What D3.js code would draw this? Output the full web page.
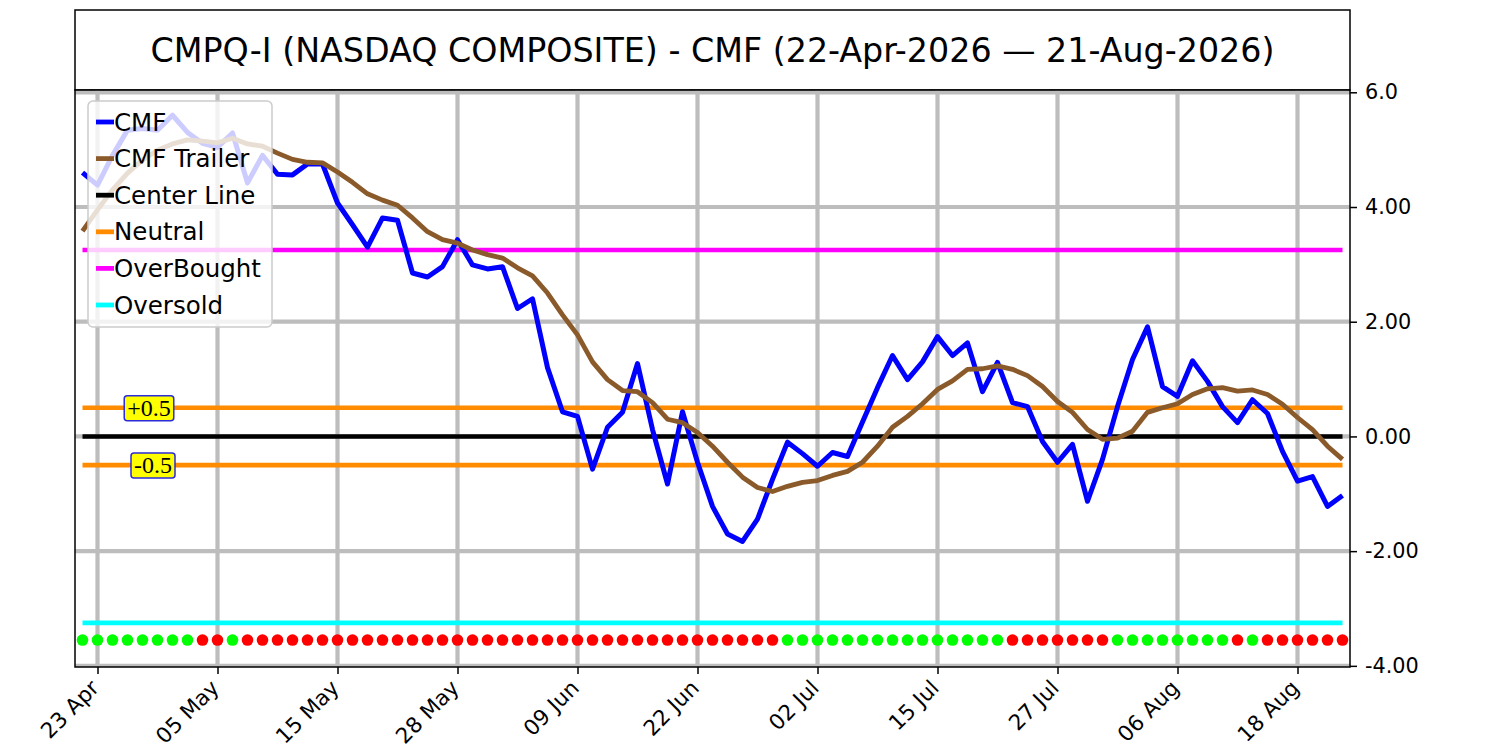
<!DOCTYPE html>
<html>
<head>
<meta charset="utf-8">
<script src="https://cdn.jsdelivr.net/npm/d3@7"></script>
<style>
  body { margin: 0; background: #fff; }
  svg { display: block; font-family: "DejaVu Sans", sans-serif; }
</style>
</head>
<body>
<svg id="chart" width="1500" height="750"></svg>
<script>
// trading days shown on the chart
var dates = [
  "2026-04-22","2026-04-23","2026-04-24","2026-04-27","2026-04-28","2026-04-29","2026-04-30",
  "2026-05-01","2026-05-04","2026-05-05","2026-05-06","2026-05-07","2026-05-08","2026-05-11",
  "2026-05-12","2026-05-13","2026-05-14","2026-05-15","2026-05-18","2026-05-19","2026-05-20",
  "2026-05-21","2026-05-22","2026-05-26","2026-05-27","2026-05-28","2026-05-29",
  "2026-06-01","2026-06-02","2026-06-03","2026-06-04","2026-06-05","2026-06-08","2026-06-09",
  "2026-06-10","2026-06-11","2026-06-12","2026-06-15","2026-06-16","2026-06-17","2026-06-18",
  "2026-06-22","2026-06-23","2026-06-24","2026-06-25","2026-06-26","2026-06-29","2026-06-30",
  "2026-07-01","2026-07-02","2026-07-06","2026-07-07","2026-07-08","2026-07-09","2026-07-10",
  "2026-07-13","2026-07-14","2026-07-15","2026-07-16","2026-07-17","2026-07-20","2026-07-21",
  "2026-07-22","2026-07-23","2026-07-24","2026-07-27","2026-07-28","2026-07-29","2026-07-30",
  "2026-07-31","2026-08-03","2026-08-04","2026-08-05","2026-08-06","2026-08-07","2026-08-10",
  "2026-08-11","2026-08-12","2026-08-13","2026-08-14","2026-08-17","2026-08-18","2026-08-19",
  "2026-08-20","2026-08-21"
];

var cmf = [
  4.60, 4.38, 4.90, 5.34, 5.37, 5.34, 5.60, 5.30, 5.11, 5.04,
  5.29, 4.42, 4.90, 4.57, 4.56, 4.75, 4.75, 4.07, 3.69, 3.30,
  3.81, 3.77, 2.85, 2.78, 2.96, 3.43, 2.99, 2.92, 2.96, 2.23,
  2.40, 1.20, 0.43, 0.35, -0.57, 0.16, 0.42, 1.27, 0.12, -0.83,
  0.43, -0.45, -1.22, -1.70, -1.83, -1.44, -0.75, -0.10, -0.30, -0.52,
  -0.28, -0.35, 0.25, 0.85, 1.41, 0.99, 1.30, 1.74, 1.41, 1.63,
  0.78, 1.29, 0.59, 0.52, -0.09, -0.45, -0.14, -1.13, -0.40, 0.52,
  1.34, 1.91, 0.87, 0.70, 1.32, 0.96, 0.52, 0.24, 0.64, 0.40,
  -0.26, -0.78, -0.70, -1.22, -1.03
];

var cmfTrailer = [
  3.58, 3.95, 4.30, 4.59, 4.82, 4.99, 5.10, 5.17, 5.15, 5.12,
  5.20, 5.10, 5.06, 4.94, 4.83, 4.78, 4.77, 4.61, 4.43, 4.23,
  4.12, 4.03, 3.81, 3.57, 3.43, 3.37, 3.25, 3.17, 3.11, 2.94,
  2.80, 2.50, 2.12, 1.77, 1.30, 0.99, 0.80, 0.78, 0.59, 0.30,
  0.24, 0.07, -0.17, -0.45, -0.71, -0.89, -0.96, -0.87, -0.80, -0.77,
  -0.68, -0.61, -0.45, -0.17, 0.16, 0.35, 0.57, 0.82, 0.97, 1.17,
  1.18, 1.23, 1.17, 1.06, 0.87, 0.61, 0.42, 0.12, -0.05, -0.03,
  0.09, 0.42, 0.50, 0.57, 0.73, 0.83, 0.85, 0.79, 0.81, 0.73,
  0.56, 0.33, 0.12, -0.17, -0.40
];

// signal dots along the bottom: G = green, R = red
var signal = (
  "GGGGGGGGRRGRRRRRRRRRRRRRRRRRRRRRRRRRRRRRRRRRRRR" +
  "GGGGGGGGGGGGGGGRRRRRRRGGGGGGGGRGRRRRRR"
).split("");

var tickDates = ["2026-04-23","2026-05-05","2026-05-15","2026-05-28","2026-06-09","2026-06-22",
                 "2026-07-02","2026-07-15","2026-07-27","2026-08-06","2026-08-18"];
var yTicks = [-4, -2, 0, 2, 4, 6];
var yTickLabels = ["-4.00", "-2.00", "0.00", "2.00", "4.00", "6.0"];

var centerLine = 0, neutralHi = 0.5, neutralLo = -0.5, overBought = 3.25, overSold = -3.25;
var signalLevel = -3.55;

var title = "CMPQ-I (NASDAQ COMPOSITE) - CMF (22-Apr-2026 \u2014 21-Aug-2026)";

// layout
var pl = 75, pr = 1350, pt = 90, pb = 667;
var svg = d3.select("#chart");

var x = d3.scaleLinear().domain([-0.5, dates.length - 0.5]).range([pl, pr]);
var y = d3.scaleLinear().domain([-4.02, 6.04]).range([pb, pt]);

// title box
svg.append("rect")
  .attr("x", pl).attr("y", 10).attr("width", pr - pl).attr("height", pt - 10)
  .attr("fill", "#fff").attr("stroke", "#000").attr("stroke-width", 1.5);
svg.append("text")
  .attr("x", (pl + pr) / 2).attr("y", 50)
  .attr("text-anchor", "middle").attr("dominant-baseline", "central")
  .style("font-size", "33.3px")
  .text(title);

// clip
svg.append("clipPath").attr("id", "plotclip")
  .append("rect").attr("x", pl).attr("y", pt).attr("width", pr - pl).attr("height", pb - pt);

var plot = svg.append("g").attr("clip-path", "url(#plotclip)");

// grid
var tickIdx = tickDates.map(function (d) { return dates.indexOf(d); });
plot.selectAll(".vgrid").data(tickIdx).enter().append("line")
  .attr("x1", function (d) { return x(d); }).attr("x2", function (d) { return x(d); })
  .attr("y1", pt).attr("y2", pb)
  .attr("stroke", "#bdbdbd").attr("stroke-width", 4.2);
plot.selectAll(".hgrid").data(yTicks).enter().append("line")
  .attr("x1", pl).attr("x2", pr)
  .attr("y1", function (d) { return y(d); }).attr("y2", function (d) { return y(d); })
  .attr("stroke", "#bdbdbd").attr("stroke-width", 4.2);

// reference levels across the data range
var levels = [
  { v: overBought, c: "#ff00ff" },
  { v: neutralHi, c: "#ff8c00" },
  { v: neutralLo, c: "#ff8c00" },
  { v: centerLine, c: "#000000" },
  { v: overSold, c: "#00ffff" }
];
plot.selectAll(".level").data(levels).enter().append("line")
  .attr("x1", x(0)).attr("x2", x(dates.length - 1))
  .attr("y1", function (d) { return y(d.v); }).attr("y2", function (d) { return y(d.v); })
  .attr("stroke", function (d) { return d.c; }).attr("stroke-width", 4.6);

// series
var line = d3.line().x(function (d, i) { return x(i); }).y(function (d) { return y(d); });
plot.append("path").datum(cmf)
  .attr("d", line).attr("fill", "none").attr("stroke", "#0000ff")
  .attr("stroke-width", 5).attr("stroke-linejoin", "round");
plot.append("path").datum(cmfTrailer)
  .attr("d", line).attr("fill", "none").attr("stroke", "#8b5a2b")
  .attr("stroke-width", 4.8).attr("stroke-linejoin", "round");

// signal dots
plot.selectAll(".dot").data(signal).enter().append("circle")
  .attr("cx", function (d, i) { return x(i); })
  .attr("cy", y(signalLevel))
  .attr("r", 5.8)
  .attr("fill", function (d) { return d === "G" ? "#00ff00" : "#ff0000"; });

// frame
svg.append("rect")
  .attr("x", pl).attr("y", pt).attr("width", pr - pl).attr("height", pb - pt)
  .attr("fill", "none").attr("stroke", "#000").attr("stroke-width", 1.5);

// axes
var xAxis = d3.axisBottom(x)
  .tickValues(tickIdx)
  .tickSize(7)
  .tickFormat(function (d) { return d3.timeFormat("%d %b")(d3.timeParse("%Y-%m-%d")(dates[d])); });
var gx = svg.append("g").attr("transform", "translate(0," + pb + ")").call(xAxis);
gx.select(".domain").remove();
gx.selectAll("line").attr("stroke", "#000").attr("stroke-width", 1.5);
gx.selectAll("text")
  .style("font-size", "21.5px").style("font-family", "DejaVu Sans")
  .attr("fill", "#000")
  .attr("text-anchor", "end")
  .attr("dy", "0.35em").attr("y", 0).attr("x", 0)
  .attr("transform", "translate(-3,17) rotate(-45)");

var yAxis = d3.axisRight(y)
  .tickValues(yTicks)
  .tickSize(7)
  .tickFormat(function (d, i) { return yTickLabels[i]; });
var gy = svg.append("g").attr("transform", "translate(" + pr + ",0)").call(yAxis);
gy.select(".domain").remove();
gy.selectAll("line").attr("stroke", "#000").attr("stroke-width", 1.5);
gy.selectAll("text")
  .style("font-size", "20.8px").style("font-family", "DejaVu Sans")
  .attr("fill", "#000").attr("x", 15);

// boxed level labels
var boxLabels = [
  { t: "+0.5", v: neutralHi, cx: 149 },
  { t: "-0.5", v: neutralLo, cx: 153 }
];
var bl = svg.selectAll(".boxlabel").data(boxLabels).enter().append("g");
bl.append("text")
  .attr("x", function (d) { return d.cx; }).attr("y", function (d) { return y(d.v); })
  .attr("text-anchor", "middle").attr("dominant-baseline", "central")
  .style("font-family", "'Liberation Serif', 'DejaVu Serif', serif").style("font-size", "24px")
  .text(function (d) { return d.t; })
  .each(function () {
    var b = this.getBBox();
    d3.select(this.parentNode).insert("rect", "text")
      .attr("x", b.x - 3).attr("y", b.y + 1).attr("width", b.width + 6).attr("height", b.height - 1)
      .attr("rx", 3).attr("fill", "#ffff00").attr("stroke", "#2b2bd9").attr("stroke-width", 1.5);
  });

// legend
var legendItems = [
  { n: "CMF", c: "#0000ff" },
  { n: "CMF Trailer", c: "#8b5a2b" },
  { n: "Center Line", c: "#000000" },
  { n: "Neutral", c: "#ff8c00" },
  { n: "OverBought", c: "#ff00ff" },
  { n: "Oversold", c: "#00ffff" }
];
var lg = svg.append("g").attr("transform", "translate(88,101)");
lg.append("rect")
  .attr("width", 184).attr("height", 226).attr("rx", 5)
  .attr("fill", "#fff").attr("fill-opacity", 0.8)
  .attr("stroke", "#cccccc").attr("stroke-width", 1.5);
var li = lg.selectAll(".li").data(legendItems).enter().append("g")
  .attr("transform", function (d, i) { return "translate(0," + (21 + i * 36.6) + ")"; });
li.append("line").attr("x1", 8).attr("x2", 26).attr("y1", 0).attr("y2", 0)
  .attr("stroke", function (d) { return d.c; }).attr("stroke-width", 4.8);
li.append("text").attr("x", 26).attr("y", 0).attr("dominant-baseline", "central")
  .style("font-size", "24.5px").attr("fill", "#000")
  .text(function (d) { return d.n; });
</script>
</body>
</html>
